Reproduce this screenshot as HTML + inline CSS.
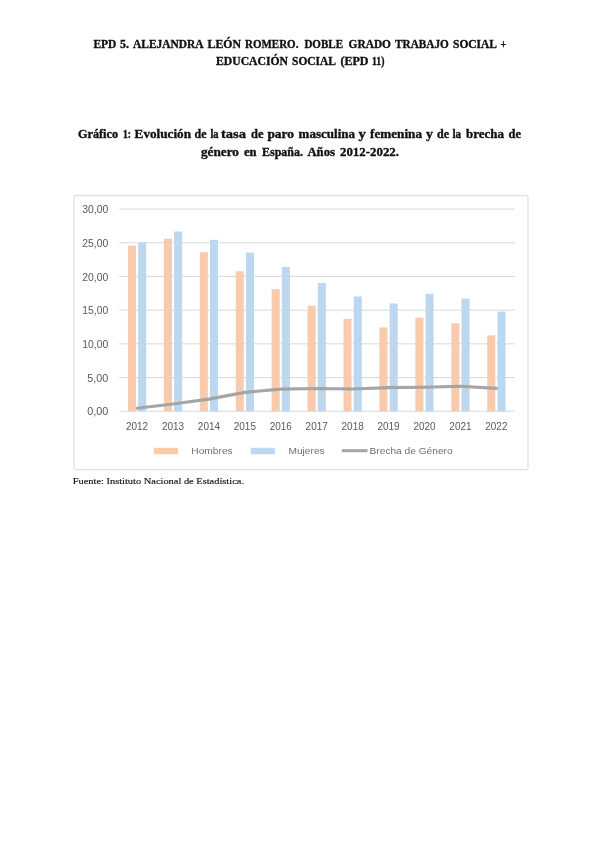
<!DOCTYPE html>
<html lang="es"><head><meta charset="utf-8"><title>EPD 5</title>
<style>html,body{margin:0;padding:0;background:#fff}body{width:600px;height:848px;position:relative;overflow:hidden}</style></head>
<body>
<svg width="600" height="848" viewBox="0 0 600 848" style="position:absolute;left:0;top:0">
<g font-family="'Liberation Serif', serif" font-weight="bold" fill="#111" stroke="#111" stroke-width="0.35">
<text x="93.4" y="47.9" font-size="11.8" textLength="23.0" lengthAdjust="spacingAndGlyphs">EPD</text>
<text x="120.0" y="47.9" font-size="11.8" textLength="9.0" lengthAdjust="spacingAndGlyphs">5.</text>
<text x="133.0" y="47.9" font-size="11.8" textLength="70.6" lengthAdjust="spacingAndGlyphs">ALEJANDRA</text>
<text x="207.6" y="47.9" font-size="11.8" textLength="33.4" lengthAdjust="spacingAndGlyphs">LEÓN</text>
<text x="245.0" y="47.9" font-size="11.8" textLength="53.4" lengthAdjust="spacingAndGlyphs">ROMERO.</text>
<text x="304.4" y="47.9" font-size="11.8" textLength="38.6" lengthAdjust="spacingAndGlyphs">DOBLE</text>
<text x="348.6" y="47.9" font-size="11.8" textLength="42.4" lengthAdjust="spacingAndGlyphs">GRADO</text>
<text x="395.0" y="47.9" font-size="11.8" textLength="53.8" lengthAdjust="spacingAndGlyphs">TRABAJO</text>
<text x="453.0" y="47.9" font-size="11.8" textLength="44.0" lengthAdjust="spacingAndGlyphs">SOCIAL</text>
<text x="500.6" y="47.9" font-size="11.8" textLength="5.8" lengthAdjust="spacingAndGlyphs">+</text>
<text x="216.0" y="65.4" font-size="11.8" textLength="72.0" lengthAdjust="spacingAndGlyphs">EDUCACIÓN</text>
<text x="292.0" y="65.4" font-size="11.8" textLength="44.0" lengthAdjust="spacingAndGlyphs">SOCIAL</text>
<text x="340.4" y="65.4" font-size="11.8" textLength="28.2" lengthAdjust="spacingAndGlyphs">(EPD</text>
<text x="372.0" y="65.4" font-size="11.8" textLength="12.4" lengthAdjust="spacingAndGlyphs">11)</text>
<text x="78.0" y="137.6" font-size="12.2" textLength="40.0" lengthAdjust="spacingAndGlyphs">Gráfico</text>
<text x="123.0" y="137.6" font-size="12.2" textLength="8.0" lengthAdjust="spacingAndGlyphs">1:</text>
<text x="134.6" y="137.6" font-size="12.2" textLength="56.4" lengthAdjust="spacingAndGlyphs">Evolución</text>
<text x="194.6" y="137.6" font-size="12.2" textLength="12.0" lengthAdjust="spacingAndGlyphs">de</text>
<text x="210.4" y="137.6" font-size="12.2" textLength="8.2" lengthAdjust="spacingAndGlyphs">la</text>
<text x="221.0" y="137.6" font-size="12.2" textLength="25.0" lengthAdjust="spacingAndGlyphs">tasa</text>
<text x="251.0" y="137.6" font-size="12.2" textLength="12.4" lengthAdjust="spacingAndGlyphs">de</text>
<text x="267.4" y="137.6" font-size="12.2" textLength="26.6" lengthAdjust="spacingAndGlyphs">paro</text>
<text x="298.6" y="137.6" font-size="12.2" textLength="56.4" lengthAdjust="spacingAndGlyphs">masculina</text>
<text x="358.6" y="137.6" font-size="12.2" textLength="7.4" lengthAdjust="spacingAndGlyphs">y</text>
<text x="370.0" y="137.6" font-size="12.2" textLength="52.0" lengthAdjust="spacingAndGlyphs">femenina</text>
<text x="426.0" y="137.6" font-size="12.2" textLength="7.0" lengthAdjust="spacingAndGlyphs">y</text>
<text x="437.0" y="137.6" font-size="12.2" textLength="12.0" lengthAdjust="spacingAndGlyphs">de</text>
<text x="452.4" y="137.6" font-size="12.2" textLength="8.6" lengthAdjust="spacingAndGlyphs">la</text>
<text x="466.0" y="137.6" font-size="12.2" textLength="38.0" lengthAdjust="spacingAndGlyphs">brecha</text>
<text x="508.6" y="137.6" font-size="12.2" textLength="12.4" lengthAdjust="spacingAndGlyphs">de</text>
<text x="201.0" y="156" font-size="12.2" textLength="38.0" lengthAdjust="spacingAndGlyphs">género</text>
<text x="244.0" y="156" font-size="12.2" textLength="12.6" lengthAdjust="spacingAndGlyphs">en</text>
<text x="262.0" y="156" font-size="12.2" textLength="41.0" lengthAdjust="spacingAndGlyphs">España.</text>
<text x="307.4" y="156" font-size="12.2" textLength="27.6" lengthAdjust="spacingAndGlyphs">Años</text>
<text x="340.0" y="156" font-size="12.2" textLength="59.0" lengthAdjust="spacingAndGlyphs">2012-2022.</text>
</g>
<rect x="74" y="195.5" width="454" height="274.2" fill="#fff" stroke="#e2e2e2" stroke-width="1.3" rx="1.5"/>
<line x1="119.1" x2="514.8" y1="411.25" y2="411.25" stroke="#d9d9d9" stroke-width="1"/>
<line x1="119.1" x2="514.8" y1="377.55" y2="377.55" stroke="#d9d9d9" stroke-width="1"/>
<line x1="119.1" x2="514.8" y1="343.85" y2="343.85" stroke="#d9d9d9" stroke-width="1"/>
<line x1="119.1" x2="514.8" y1="310.15" y2="310.15" stroke="#d9d9d9" stroke-width="1"/>
<line x1="119.1" x2="514.8" y1="276.45" y2="276.45" stroke="#d9d9d9" stroke-width="1"/>
<line x1="119.1" x2="514.8" y1="242.75" y2="242.75" stroke="#d9d9d9" stroke-width="1"/>
<line x1="119.1" x2="514.8" y1="209.05" y2="209.05" stroke="#d9d9d9" stroke-width="1"/>
<rect x="127.92" y="245.58" width="8.06" height="165.67" fill="#f8cbad"/>
<rect x="138.15" y="242.55" width="8.06" height="168.70" fill="#bdd7ee"/>
<rect x="163.85" y="238.71" width="8.06" height="172.54" fill="#f8cbad"/>
<rect x="174.08" y="231.49" width="8.06" height="179.76" fill="#bdd7ee"/>
<rect x="199.78" y="252.19" width="8.06" height="159.06" fill="#f8cbad"/>
<rect x="210.01" y="239.85" width="8.06" height="171.40" fill="#bdd7ee"/>
<rect x="235.71" y="271.26" width="8.06" height="139.99" fill="#f8cbad"/>
<rect x="245.94" y="252.52" width="8.06" height="158.73" fill="#bdd7ee"/>
<rect x="271.64" y="289.12" width="8.06" height="122.13" fill="#f8cbad"/>
<rect x="281.87" y="267.15" width="8.06" height="144.10" fill="#bdd7ee"/>
<rect x="307.57" y="305.70" width="8.06" height="105.55" fill="#f8cbad"/>
<rect x="317.80" y="282.99" width="8.06" height="128.26" fill="#bdd7ee"/>
<rect x="343.50" y="318.78" width="8.06" height="92.47" fill="#f8cbad"/>
<rect x="353.73" y="296.54" width="8.06" height="114.71" fill="#bdd7ee"/>
<rect x="379.43" y="327.34" width="8.06" height="83.91" fill="#f8cbad"/>
<rect x="389.66" y="303.48" width="8.06" height="107.77" fill="#bdd7ee"/>
<rect x="415.36" y="317.77" width="8.06" height="93.48" fill="#f8cbad"/>
<rect x="425.59" y="293.77" width="8.06" height="117.48" fill="#bdd7ee"/>
<rect x="451.29" y="323.29" width="8.06" height="87.96" fill="#f8cbad"/>
<rect x="461.52" y="298.62" width="8.06" height="112.63" fill="#bdd7ee"/>
<rect x="487.22" y="335.36" width="8.06" height="75.89" fill="#f8cbad"/>
<rect x="497.45" y="311.57" width="8.06" height="99.68" fill="#bdd7ee"/>
<polyline points="137.06,408.22 173.00,404.04 208.93,399.12 244.85,392.38 280.78,389.14 316.72,388.54 352.64,389.01 388.58,387.66 424.50,387.26 460.43,386.31 496.37,388.33" fill="none" stroke="#a5a5a5" stroke-width="3.1" stroke-linecap="round" stroke-linejoin="round"/>
<g font-family="'Liberation Sans', sans-serif" font-size="10.6" fill="#595959">
<text x="87.3" y="415.45" textLength="21.0" lengthAdjust="spacingAndGlyphs">0,00</text>
<text x="87.3" y="381.75" textLength="21.0" lengthAdjust="spacingAndGlyphs">5,00</text>
<text x="82.3" y="348.05" textLength="26.0" lengthAdjust="spacingAndGlyphs">10,00</text>
<text x="82.3" y="314.35" textLength="26.0" lengthAdjust="spacingAndGlyphs">15,00</text>
<text x="82.3" y="280.65" textLength="26.0" lengthAdjust="spacingAndGlyphs">20,00</text>
<text x="82.3" y="246.95" textLength="26.0" lengthAdjust="spacingAndGlyphs">25,00</text>
<text x="82.3" y="213.25" textLength="26.0" lengthAdjust="spacingAndGlyphs">30,00</text>
<text x="125.97" y="430" textLength="22.2" lengthAdjust="spacingAndGlyphs">2012</text>
<text x="161.90" y="430" textLength="22.2" lengthAdjust="spacingAndGlyphs">2013</text>
<text x="197.83" y="430" textLength="22.2" lengthAdjust="spacingAndGlyphs">2014</text>
<text x="233.75" y="430" textLength="22.2" lengthAdjust="spacingAndGlyphs">2015</text>
<text x="269.68" y="430" textLength="22.2" lengthAdjust="spacingAndGlyphs">2016</text>
<text x="305.62" y="430" textLength="22.2" lengthAdjust="spacingAndGlyphs">2017</text>
<text x="341.54" y="430" textLength="22.2" lengthAdjust="spacingAndGlyphs">2018</text>
<text x="377.48" y="430" textLength="22.2" lengthAdjust="spacingAndGlyphs">2019</text>
<text x="413.40" y="430" textLength="22.2" lengthAdjust="spacingAndGlyphs">2020</text>
<text x="449.33" y="430" textLength="22.2" lengthAdjust="spacingAndGlyphs">2021</text>
<text x="485.26" y="430" textLength="22.2" lengthAdjust="spacingAndGlyphs">2022</text>
</g><g font-family="'Liberation Sans', sans-serif" font-size="9.9" fill="#6e6e6e">
<text x="191.3" y="454.2" textLength="41.4" lengthAdjust="spacingAndGlyphs">Hombres</text>
<text x="288.5" y="454.2" textLength="36.1" lengthAdjust="spacingAndGlyphs">Mujeres</text>
<text x="369.6" y="454.2" textLength="83" lengthAdjust="spacingAndGlyphs">Brecha de Género</text>
</g>
<rect x="153.8" y="447.8" width="24.2" height="6.4" fill="#f8cbad"/>
<rect x="250.8" y="447.8" width="24.2" height="6.4" fill="#bdd7ee"/>
<line x1="341.8" x2="367.6" y1="450.7" y2="450.7" stroke="#a5a5a5" stroke-width="3"/>
<text x="72.7" y="484.1" font-family="'Liberation Serif', serif" font-size="8.8" fill="#111" stroke="#111" stroke-width="0.15" textLength="171.3" lengthAdjust="spacingAndGlyphs">Fuente: Instituto Nacional de Estadística.</text>
</svg>
</body></html>
